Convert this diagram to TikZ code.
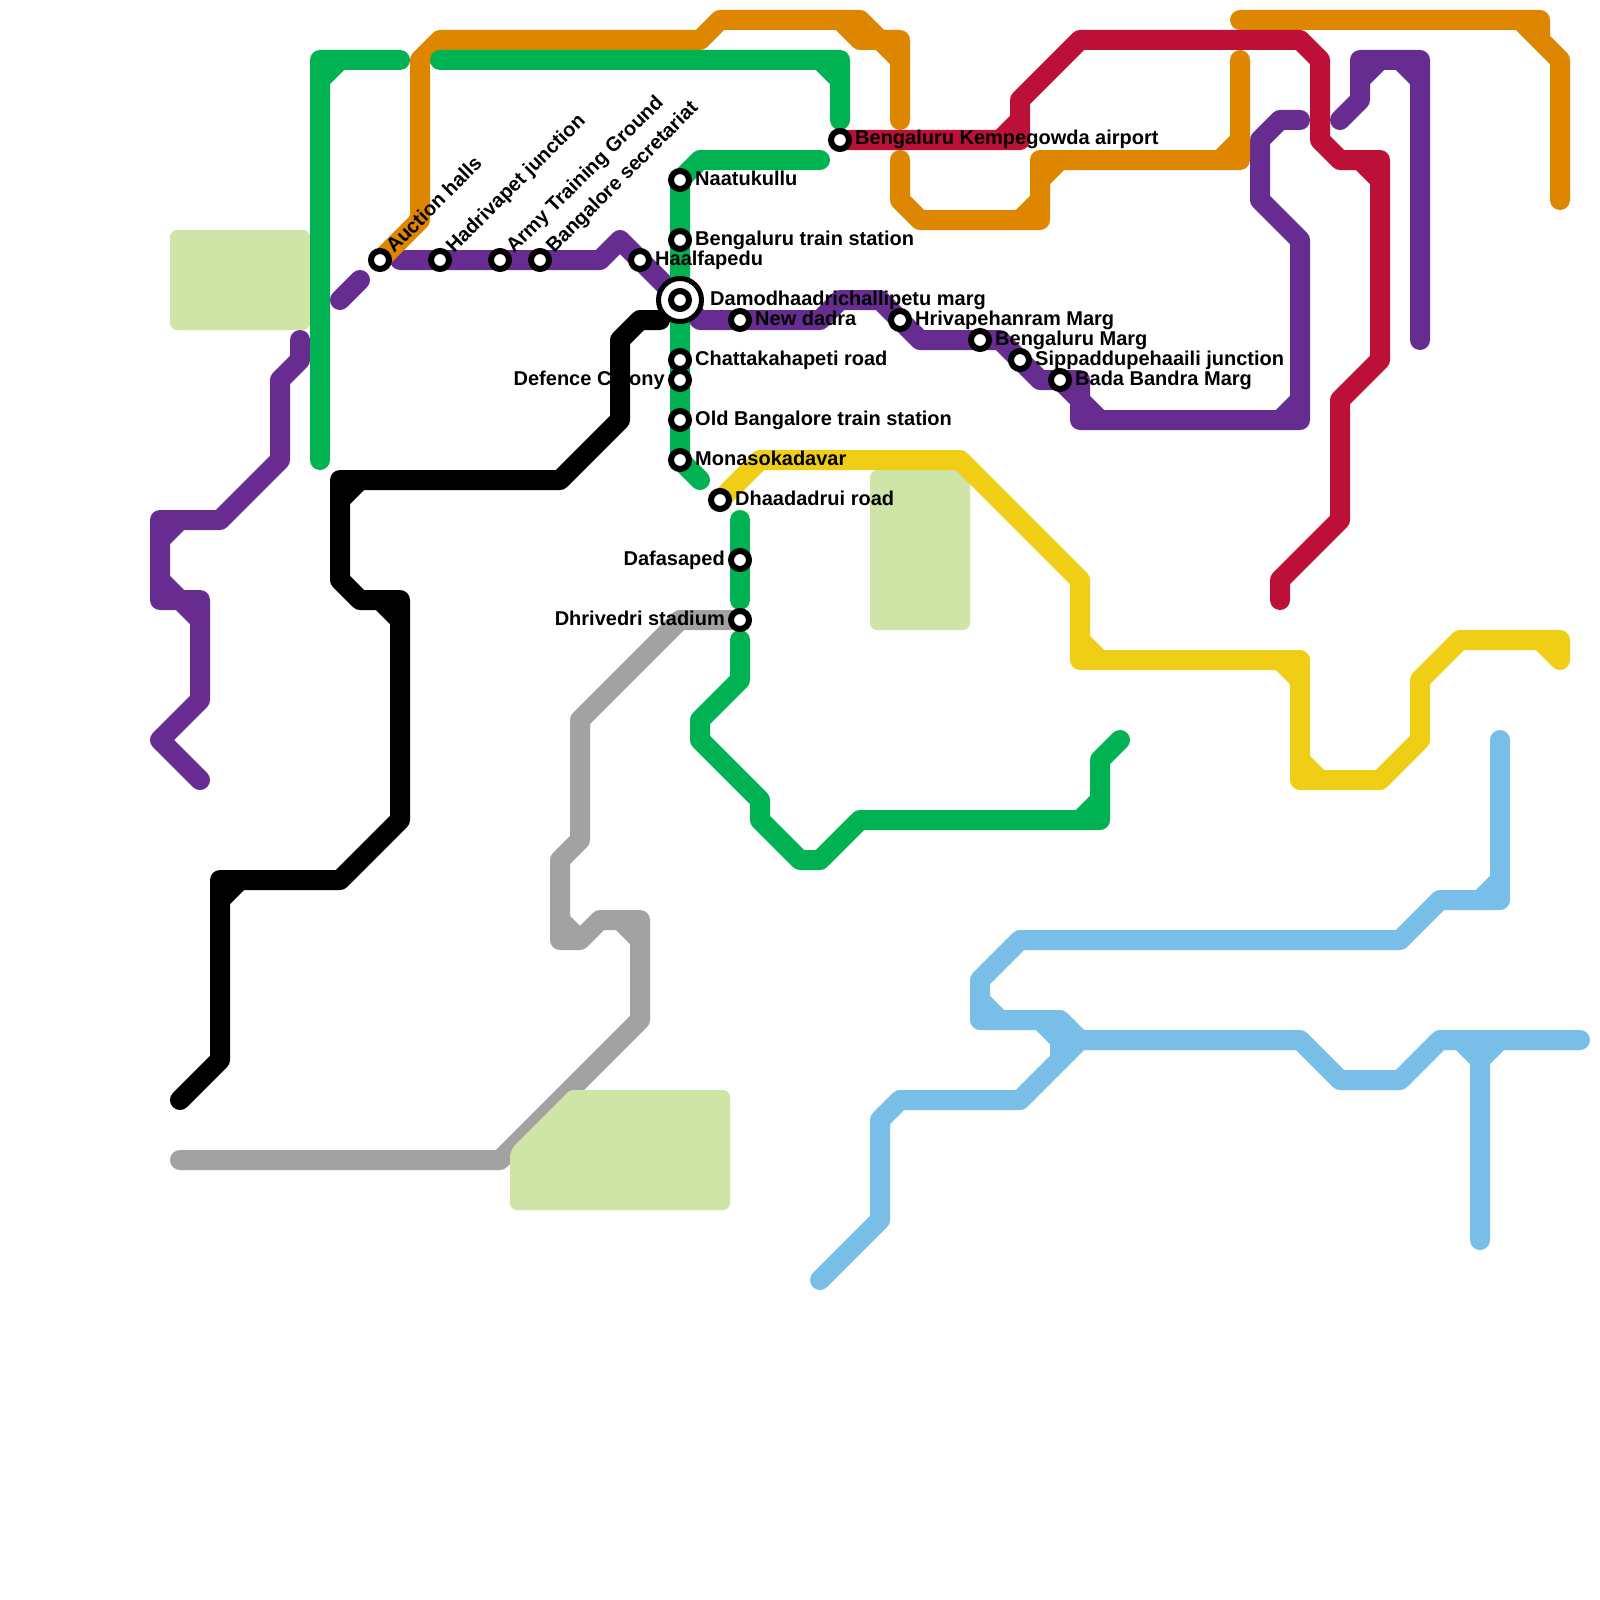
\documentclass[tikz,border=0pt]{standalone}
\usepackage{fontspec}
\setmainfont{Liberation Sans}
\definecolor{mgreen}{HTML}{00B251}
\definecolor{morange}{HTML}{DF8600}
\definecolor{mred}{HTML}{BD1038}
\definecolor{mpurple}{HTML}{662C90}
\definecolor{myellow}{HTML}{F0CE15}
\definecolor{mgray}{HTML}{A2A2A2}
\definecolor{mblue}{HTML}{79BDE9}
\definecolor{mpark}{HTML}{CFE4A7}
\tikzset{
  metroline/.style={line width=20pt,line cap=round,line join=round},
  greenline/.style={metroline,draw=mgreen},
  orangeline/.style={metroline,draw=morange},
  redline/.style={metroline,draw=mred},
  purpleline/.style={metroline,draw=mpurple},
  yellowline/.style={metroline,draw=myellow},
  grayline/.style={metroline,draw=mgray},
  blackline/.style={metroline,draw=black},
  blueline/.style={metroline,draw=mblue},
  parkarea/.style={fill=mpark,draw=none,rounded corners=7pt},
  stationdot/.style={circle,draw=black,fill=white,line width=6pt,minimum size=18pt,inner sep=0pt},
  hubring/.style={circle,draw=black,fill=white,line width=5pt,minimum size=43pt,inner sep=0pt},
  stationlabel/.style={font=\fontsize{20}{20}\selectfont\bfseries,inner sep=0pt,text=black},
  rightlabel/.style={stationlabel,anchor=base west},
  leftlabel/.style={stationlabel,anchor=base east},
  upperlabel/.style={stationlabel,anchor=base west,rotate=45}
}
\begin{document}
\begin{tikzpicture}[x=1pt,y=-1pt]
\useasboundingbox (0,0) rectangle (1600,1600);
\fill[white] (0,0) rectangle (1600,1600);
% named station positions
\coordinate (pAuction) at (380,260);
\coordinate (pHadrivapet) at (440,260);
\coordinate (pArmy) at (500,260);
\coordinate (pSecretariat) at (540,260);
\coordinate (pHaalfapedu) at (640,260);
\coordinate (pNaatukullu) at (680,180);
\coordinate (pTrain) at (680,240);
\coordinate (pHub) at (680,300);
\coordinate (pChatta) at (680,360);
\coordinate (pDefence) at (680,380);
\coordinate (pOld) at (680,420);
\coordinate (pMonaso) at (680,460);
\coordinate (pAirport) at (840,140);
\coordinate (pDadra) at (740,320);
\coordinate (pHriva) at (900,320);
\coordinate (pMarg) at (980,340);
\coordinate (pSippad) at (1020,360);
\coordinate (pBada) at (1060,380);
\coordinate (pDhaada) at (720,500);
\coordinate (pDafa) at (740,560);
\coordinate (pDhrivedri) at (740,620);
% gray
\draw[grayline] (pDhrivedri) -- (680,620) -- (580,720) -- (580,840) -- (560,860) -- (560,940) -- (580,940) -- (600,920) -- (640,920) -- (640,1020) -- (500,1160) -- (180,1160)
  (560,920) -- (580,940) (620,920) -- (640,940);
% parks
\fill[parkarea] (170,230) rectangle (310,330);
\fill[parkarea] (870,470) rectangle (970,630);
\fill[parkarea] [rounded corners=3pt] (510,1150) -- (570,1090) [rounded corners=7pt] -- (730,1090) -- (730,1210) -- (510,1210) -- cycle;
% purple
\draw[purpleline] (300,340) -- (300,360) -- (280,380) -- (280,460) -- (220,520) -- (160,520) -- (160,600) -- (200,600) -- (200,700) -- (160,740) -- (200,780)
  (160,540) -- (180,520) (160,580) -- (180,600) -- (200,620);
\draw[purpleline] (340,300) -- (360,280);
\draw[purpleline] (400,260) -- (600,260) -- (620,240) -- (pHub) -- (700,320) -- (820,320) -- (840,300) -- (880,300) -- (920,340) -- (1000,340) -- (1040,380) -- (1080,380) -- (1080,420) -- (1300,420) -- (1300,240) -- (1260,200) -- (1260,140) -- (1280,120) -- (1300,120)
  (pBada) -- (1080,400) -- (1100,420) (1280,420) -- (1300,400);
\draw[purpleline] (1340,120) -- (1360,100) -- (1360,60) -- (1420,60) -- (1420,340)
  (1360,80) -- (1380,60) (1400,60) -- (1420,80);
% orange
\draw[orangeline] (pAuction) -- (420,220) -- (420,60) -- (440,40) -- (700,40) -- (720,20) -- (860,20) -- (880,40) -- (900,40) -- (900,120)
  (840,20) -- (860,40) -- (880,40) (880,40) -- (900,60);
\draw[orangeline] (900,160) -- (900,200) -- (920,220) -- (1040,220) -- (1040,160) -- (1240,160) -- (1240,60)
  (1020,220) -- (1040,200) (1040,180) -- (1060,160) (1220,160) -- (1240,140);
\draw[orangeline] (1240,20) -- (1540,20) -- (1540,40) -- (1560,60) -- (1560,200)
  (1520,20) -- (1540,40);
% red
\draw[redline] (pAirport) -- (1020,140) -- (1020,100) -- (1080,40) -- (1300,40) -- (1320,60) -- (1320,140) -- (1340,160) -- (1380,160) -- (1380,360) -- (1340,400) -- (1340,520) -- (1280,580) -- (1280,600)
  (1000,140) -- (1020,120) (1360,160) -- (1380,180);
% green
\draw[greenline] (320,460) -- (320,60) -- (400,60) (320,80) -- (340,60);
\draw[greenline] (440,60) -- (840,60) -- (840,120) (820,60) -- (840,80);
\draw[greenline] (820,160) -- (700,160) -- (pNaatukullu) -- (pMonaso) -- (700,480);
\draw[greenline] (740,520) -- (740,600);
\draw[greenline] (740,640) -- (740,680) -- (700,720) -- (700,740) -- (760,800) -- (760,820) -- (800,860) -- (820,860) -- (860,820) -- (1100,820) -- (1100,760) -- (1120,740)
  (1080,820) -- (1100,800);
% yellow
\draw[yellowline] (pDhaada) -- (760,460) -- (960,460) -- (1080,580) -- (1080,660) -- (1300,660) -- (1300,780) -- (1380,780) -- (1420,740) -- (1420,680) -- (1460,640) -- (1560,640) -- (1560,660)
  (1080,640) -- (1100,660) (1280,660) -- (1300,680) (1300,760) -- (1320,780) (1540,640) -- (1560,660);
% black
\draw[blackline] (660,320) -- (640,320) -- (620,340) -- (620,420) -- (560,480) -- (340,480) -- (340,580) -- (360,600) -- (400,600) -- (400,820) -- (340,880) -- (220,880) -- (220,1060) -- (180,1100)
  (340,500) -- (360,480) (380,600) -- (400,620) (220,900) -- (240,880);
% light blue
\draw[blueline] (820,1280) -- (880,1220) -- (880,1120) -- (900,1100) -- (1020,1100) -- (1080,1040) -- (1300,1040) -- (1340,1080) -- (1400,1080) -- (1440,1040) -- (1580,1040)
  (1460,1040) -- (1480,1060) -- (1500,1040) (1480,1060) -- (1480,1240);
\draw[blueline] (1500,740) -- (1500,900) -- (1440,900) -- (1400,940) -- (1020,940) -- (980,980) -- (980,1020) -- (1060,1020) -- (1080,1040)
  (980,1000) -- (1000,1020) (1040,1020) -- (1060,1040) -- (1060,1060) (1480,900) -- (1500,880);
% stations
\node[hubring] (hubOuter) at (pHub) {};
\foreach \p/\n in {pAuction/sAuction,pHadrivapet/sHadrivapet,pArmy/sArmy,pSecretariat/sSecretariat,pHaalfapedu/sHaalfapedu,pNaatukullu/sNaatukullu,pTrain/sTrain,pHub/sHub,pChatta/sChatta,pDefence/sDefence,pOld/sOld,pMonaso/sMonaso,pAirport/sAirport,pDadra/sDadra,pHriva/sHriva,pMarg/sMarg,pSippad/sSippad,pBada/sBada,pDhaada/sDhaada,pDafa/sDafa,pDhrivedri/sDhrivedri}
  \node[stationdot] (\n) at (\p) {};
% labels
\node[upperlabel] (lAuction) at (394,254) {Auction halls};
\node[upperlabel] (lHadrivapet) at (454,254) {Hadrivapet junction};
\node[upperlabel] (lArmy) at (514,254) {Army Training Ground};
\node[upperlabel] (lSecretariat) at (554,254) {Bangalore secretariat};
\node[rightlabel] (lHaalfapedu) at (655,265) {Haalfapedu};
\node[rightlabel] (lNaatukullu) at (695,185) {Naatukullu};
\node[rightlabel] (lTrain) at (695,245) {Bengaluru train station};
\node[rightlabel] (lHub) at (710,305) {Damodhaadrichallipetu marg};
\node[rightlabel] (lChatta) at (695,365) {Chattakahapeti road};
\node[leftlabel] (lDefence) at (665,385) {Defence Colony};
\node[rightlabel] (lOld) at (695,425) {Old Bangalore train station};
\node[rightlabel] (lMonaso) at (695,465) {Monasokadavar};
\node[rightlabel] (lAirport) at (855,145) {Bengaluru Kempegowda airport};
\node[rightlabel] (lDadra) at (755,325) {New dadra};
\node[rightlabel] (lHriva) at (915,325) {Hrivapehanram Marg};
\node[rightlabel] (lMarg) at (995,345) {Bengaluru Marg};
\node[rightlabel] (lSippad) at (1035,365) {Sippaddupehaaili junction};
\node[rightlabel] (lBada) at (1075,385) {Bada Bandra Marg};
\node[rightlabel] (lDhaada) at (735,505) {Dhaadadrui road};
\node[leftlabel] (lDafa) at (725,565) {Dafasaped};
\node[leftlabel] (lDhrivedri) at (725,625) {Dhrivedri stadium};
\end{tikzpicture}
\end{document}
